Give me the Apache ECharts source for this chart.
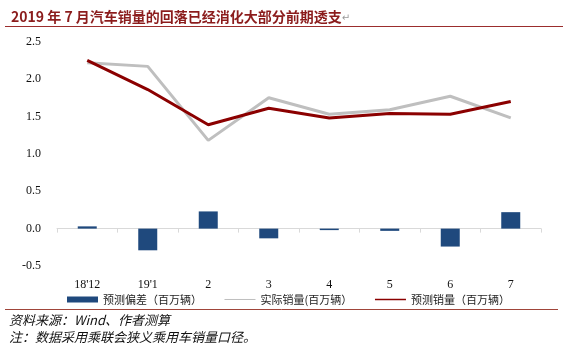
<!DOCTYPE html>
<html>
<head>
<meta charset="utf-8">
<script src="https://cdn.jsdelivr.net/npm/echarts@6/dist/echarts.min.js"></script>
<style>
  html, body { margin: 0; padding: 0; background: #fff; }
  #chart { width: 563px; height: 354px; }
</style>
</head>
<body>
<div id="chart"></div>
<script>
// values
const categories = ["18'12", "19'1", '2', '3', '4', '5', '6', '7']
const forecastError = [0.03, -0.29, 0.23, -0.13, -0.02, -0.03, -0.24, 0.22]
const actualSales = [2.22, 2.17, 1.18, 1.75, 1.53, 1.59, 1.77, 1.48]
const forecastSales = [2.25, 1.86, 1.39, 1.61, 1.48, 1.54, 1.53, 1.70]
const yTicks = { min: -0.5, max: 2.5, interval: 0.5 }

const cjk = '"Noto Sans CJK SC", "DejaVu Sans", sans-serif'
const serif = '"Liberation Serif", "DejaVu Serif", serif'

const chart = echarts.init(document.getElementById('chart'))
chart.setOption({
  animation: false,
  title: {
    text: '2019 年 7 月汽车销量的回落已经消化大部分前期透支{p|↵}',
    left: 6,
    top: 5,
    textStyle: {
      color: '#8b1c1c',
      fontSize: 14,
      fontWeight: 'bold',
      fontFamily: cjk,
      rich: { p: { color: '#9a9a9a', fontSize: 10, fontFamily: cjk, fontWeight: 'normal' } },
    },
  },
  graphic: [
    { type: 'line', shape: { x1: 5, y1: 26.5, x2: 563, y2: 26.5 }, style: { stroke: '#9b2d2d', lineWidth: 1 } },
    { type: 'line', shape: { x1: 5, y1: 309.5, x2: 558, y2: 309.5 }, style: { stroke: '#a0453a', lineWidth: 1 } },
    {
      type: 'text', left: 9, top: 314,
      style: { text: '资料来源：Wind、作者测算', fill: '#111', fontSize: 13, fontStyle: 'italic', fontFamily: cjk },
    },
    {
      type: 'text', left: 9, top: 331,
      style: { text: '注：数据采用乘联会狭义乘用车销量口径。', fill: '#111', fontSize: 13, fontStyle: 'italic', fontFamily: cjk },
    },
  ],
  legend: {
    left: 62,
    top: 289,
    itemWidth: 31,
    itemHeight: 6,
    itemGap: 22,
    textStyle: { color: '#222', fontSize: 11, fontFamily: cjk },
    data: [
      { name: '预测偏差（百万辆）', icon: 'rect' },
      { name: '实际销量(百万辆）', lineStyle: { width: 1 }, itemStyle: { opacity: 0 } },
      { name: '预测销量（百万辆）', lineStyle: { width: 1.5 }, itemStyle: { opacity: 0 } },
    ],
  },
  grid: { top: 41.7, bottom: 88, left: 57, right: 22 },
  xAxis: {
    type: 'category',
    data: categories,
    axisLine: { onZero: true, lineStyle: { color: '#d9d9d9', width: 1 } },
    axisTick: { show: true, length: 4, lineStyle: { color: '#d9d9d9' } },
    axisLabel: { color: '#111', fontSize: 12, fontFamily: serif, margin: 13 },
    splitLine: { show: false },
  },
  yAxis: {
    type: 'value',
    min: yTicks.min,
    max: yTicks.max,
    interval: yTicks.interval,
    axisLine: { show: false },
    axisTick: { show: false },
    splitLine: { show: false },
    axisLabel: {
      color: '#111',
      fontSize: 12,
      fontFamily: serif,
      margin: 16,
      formatter: (v) => v.toFixed(1),
    },
  },
  series: [
    {
      name: '预测偏差（百万辆）',
      type: 'bar',
      data: forecastError,
      barWidth: 19,
      itemStyle: { color: '#1f497d' },
    },
    {
      name: '实际销量(百万辆）',
      type: 'line',
      data: actualSales,
      symbol: 'none',
      lineStyle: { color: '#bfbfbf', width: 3 },
      itemStyle: { color: '#bfbfbf' },
    },
    {
      name: '预测销量（百万辆）',
      type: 'line',
      data: forecastSales,
      symbol: 'none',
      lineStyle: { color: '#8b0000', width: 3 },
      itemStyle: { color: '#8b0000' },
    },
  ],
})
</script>
</body>
</html>
